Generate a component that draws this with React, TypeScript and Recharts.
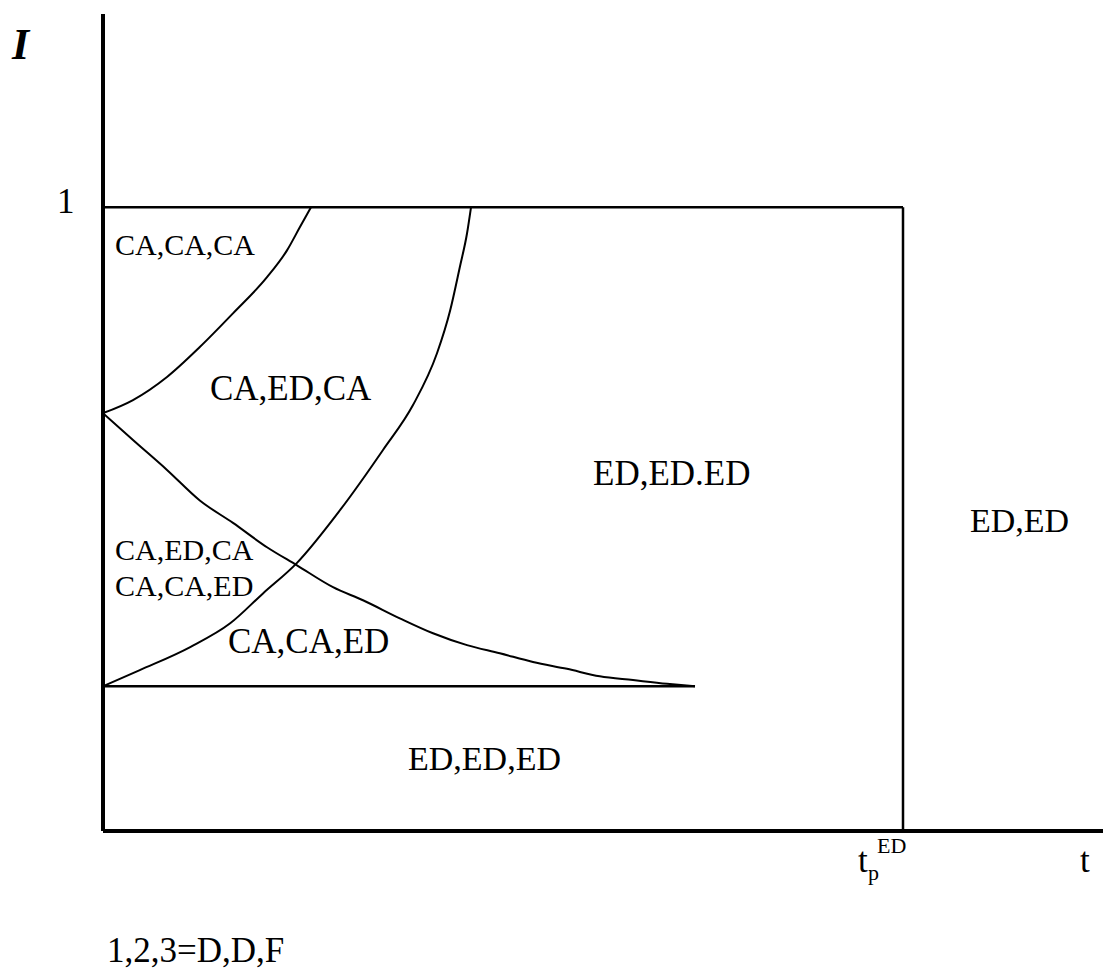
import { LineChart, Line, XAxis, YAxis } from 'recharts';

// boundaries in (t, I) units: t_p^ED = 1, I = 1 on the top edge
const curveA = [
  { t: 0, i: 0.67 },
  { t: 0.0375, i: 0.691 },
  { t: 0.08, i: 0.728 },
  { t: 0.121, i: 0.776 },
  { t: 0.1625, i: 0.83 },
  { t: 0.205, i: 0.888 },
  { t: 0.23, i: 0.931 },
  { t: 0.246, i: 0.968 },
  { t: 0.26, i: 1.0 },
];

const curveB = [
  { t: 0, i: 0.232 },
  { t: 0.046, i: 0.258 },
  { t: 0.109, i: 0.295 },
  { t: 0.159, i: 0.333 },
  { t: 0.2, i: 0.381 },
  { t: 0.2425, i: 0.43 },
  { t: 0.296, i: 0.514 },
  { t: 0.35, i: 0.611 },
  { t: 0.3875, i: 0.683 },
  { t: 0.4175, i: 0.766 },
  { t: 0.434, i: 0.835 },
  { t: 0.446, i: 0.904 },
  { t: 0.455, i: 0.958 },
  { t: 0.46, i: 1.0 },
];

const curveC = [
  { t: 0, i: 0.67 },
  { t: 0.0375, i: 0.627 },
  { t: 0.08, i: 0.579 },
  { t: 0.121, i: 0.53 },
  { t: 0.1625, i: 0.494 },
  { t: 0.205, i: 0.455 },
  { t: 0.2425, i: 0.426 },
  { t: 0.2875, i: 0.391 },
  { t: 0.325, i: 0.37 },
  { t: 0.371, i: 0.341 },
  { t: 0.4125, i: 0.317 },
  { t: 0.455, i: 0.298 },
  { t: 0.496, i: 0.285 },
  { t: 0.5375, i: 0.271 },
  { t: 0.58, i: 0.26 },
  { t: 0.621, i: 0.248 },
  { t: 0.6625, i: 0.242 },
  { t: 0.705, i: 0.236 },
  { t: 0.74, i: 0.232 },
];

const lowerEdge = [
  { t: 0, i: 0.232 },
  { t: 0.74, i: 0.232 },
];

const topEdge = [
  { t: 0, i: 1 },
  { t: 1, i: 1 },
];

const rightEdge = [
  { t: 1, i: 0 },
  { t: 1, i: 1 },
];

const W = 1106;
const H = 972;
const serif = '"Liberation Serif", "Times New Roman", serif';

export default function App() {
  return (
    <div style={{ position: 'absolute', left: 0, top: 0, width: W, height: H, background: '#fff' }}>
      <LineChart width={W} height={H} margin={{ top: 14, right: 3, left: 102, bottom: 140 }}>
        <XAxis
          dataKey="t"
          type="number"
          domain={[0, 1.25]}
          allowDataOverflow
          height={1}
          tick={false}
          tickLine={false}
          axisLine={{ stroke: '#000', strokeWidth: 4 }}
        />
        <YAxis
          type="number"
          domain={[0, 1.31]}
          allowDataOverflow
          width={1}
          tick={false}
          tickLine={false}
          axisLine={{ stroke: '#000', strokeWidth: 4 }}
        />
        <Line data={topEdge} dataKey="i" type="linear" dot={false} stroke="#000" strokeWidth={2.5} isAnimationActive={false} />
        <Line data={rightEdge} dataKey="i" type="linear" dot={false} stroke="#000" strokeWidth={2.5} isAnimationActive={false} />
        <Line data={lowerEdge} dataKey="i" type="linear" dot={false} stroke="#000" strokeWidth={2.5} isAnimationActive={false} />
        <Line data={curveA} dataKey="i" type="monotone" dot={false} stroke="#000" strokeWidth={2} isAnimationActive={false} />
        <Line data={curveB} dataKey="i" type="monotone" dot={false} stroke="#000" strokeWidth={2} isAnimationActive={false} />
        <Line data={curveC} dataKey="i" type="monotone" dot={false} stroke="#000" strokeWidth={2} isAnimationActive={false} />
      </LineChart>
      <svg width={W} height={H} style={{ position: 'absolute', left: 0, top: 0, pointerEvents: 'none' }}>
        <g fontFamily={serif} fill="#000">
          <text x={12} y={59} fontSize={44} fontWeight="bold" fontStyle="italic">I</text>
          <text x={57} y={213} fontSize={35}>1</text>
          <text x={115} y={255} fontSize={30}>CA,CA,CA</text>
          <text x={210} y={400} fontSize={35}>CA,ED,CA</text>
          <text x={593} y={485} fontSize={35}>ED,ED.ED</text>
          <text x={970} y={532} fontSize={34}>ED,ED</text>
          <text x={115} y={560} fontSize={30}>CA,ED,CA</text>
          <text x={115} y={596} fontSize={30}>CA,CA,ED</text>
          <text x={228} y={653} fontSize={35}>CA,CA,ED</text>
          <text x={408} y={770} fontSize={34}>ED,ED,ED</text>
          <text x={858} y={872} fontSize={35}>t</text>
          <text x={868} y={880} fontSize={22}>p</text>
          <text x={877} y={853} fontSize={22}>ED</text>
          <text x={1080} y={872} fontSize={35}>t</text>
          <text x={107} y={962} fontSize={35}>1,2,3=D,D,F</text>
        </g>
      </svg>
    </div>
  );
}
